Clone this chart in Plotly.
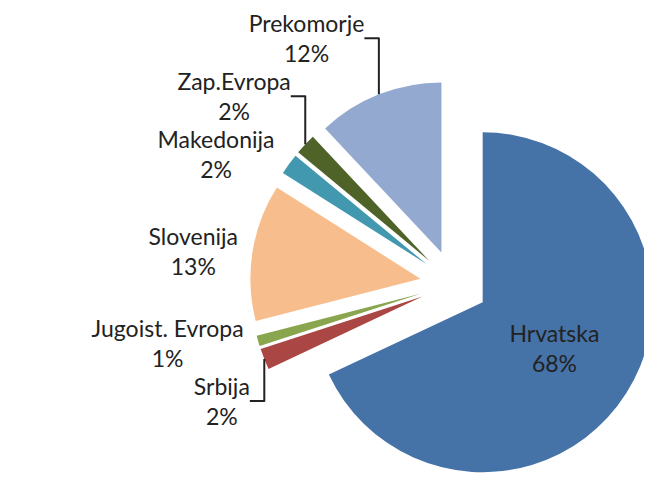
import plotly.graph_objects as go

labels = ["Hrvatska", "Srbija", "Jugoist. Evropa", "Slovenija", "Makedonija", "Zap.Evropa", "Prekomorje"]
values = [68, 2, 1, 13, 2, 2, 12]
colors = ["#4572A7", "#AA4643", "#89A54E", "#F8BD8D", "#4198AF", "#4F6228", "#93A9CF"]
pulls = [0.2, 0.2, 0.2, 0.2, 0.2, 0.2, 0.2]
positions = ["inside", "outside", "outside", "outside", "outside", "outside", "outside"]

fig = go.Figure(go.Pie(
    labels=labels,
    values=values,
    sort=False,
    direction="clockwise",
    rotation=0,
    pull=pulls,
    marker=dict(colors=colors, line=dict(width=0)),
    textinfo="label+percent",
    textposition=positions,
    insidetextorientation="horizontal",
    textfont=dict(family="Lato, Carlito, sans-serif", size=23, color="#222222"),
    domain=dict(x=[0.371, 0.997], y=[0.0, 0.85]),
    showlegend=False,
    automargin=False,
))

fig.update_layout(
    width=652, height=480,
    margin=dict(l=0, r=0, t=0, b=0),
    paper_bgcolor="white",
    plot_bgcolor="white",
)

fig.write_html("out.html")
